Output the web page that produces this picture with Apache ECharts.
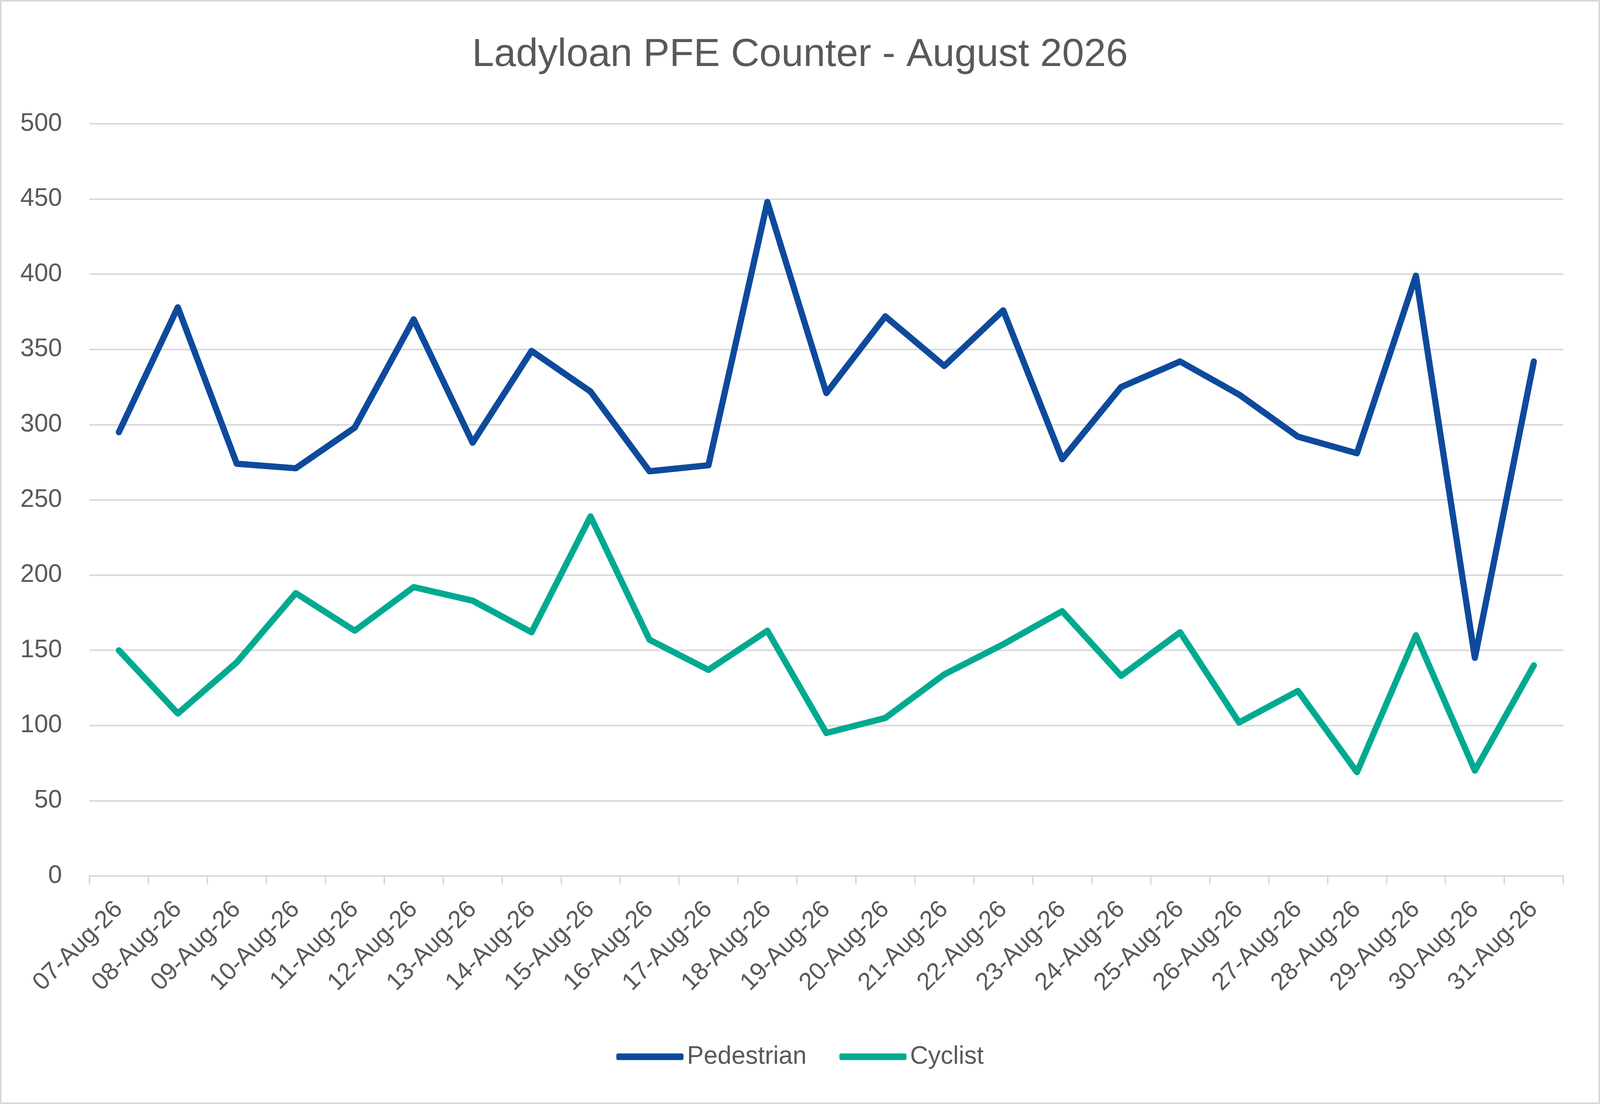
<!DOCTYPE html>
<html lang="en">
<head>
<meta charset="utf-8" />
<script src="https://cdn.jsdelivr.net/npm/echarts@6/dist/echarts.min.js"></script>
<style>
  html, body { margin: 0; padding: 0; background: #fff; overflow: hidden; }
  #chart { width: 100vw; height: 100vh; box-sizing: border-box; border: 4px solid #d9d9d9; }
</style>
</head>
<body>
<div id="chart"></div>
<script>
  var days = ["07-Aug-26", "08-Aug-26", "09-Aug-26", "10-Aug-26", "11-Aug-26", "12-Aug-26",
    "13-Aug-26", "14-Aug-26", "15-Aug-26", "16-Aug-26", "17-Aug-26", "18-Aug-26", "19-Aug-26",
    "20-Aug-26", "21-Aug-26", "22-Aug-26", "23-Aug-26", "24-Aug-26", "25-Aug-26", "26-Aug-26",
    "27-Aug-26", "28-Aug-26", "29-Aug-26", "30-Aug-26", "31-Aug-26"];

  var pedestrian = [295, 378, 274, 271, 298, 370, 288, 349, 322, 269, 273, 448, 321,
    372, 339, 376, 277, 325, 342, 320, 292, 281, 399, 145, 342];

  var cyclist = [150, 108, 142, 188, 163, 192, 183, 162, 239, 157, 137, 163, 95,
    105, 134, 154, 176, 133, 162, 102, 123, 69, 160, 70, 140];

  var font = "'Liberation Sans', Arial, sans-serif";
  var txt = "#595959";
  var grey = "#d9d9d9";

  function makeLine(name, values, color){
    return {
      name: name,
      type: "line",
      data: values,
      showSymbol: false,
      symbol: "none",
      lineStyle: { width: 16, color: color, join: "round", cap: "round" },
      itemStyle: { color: color }
    };
  }

  var chart = echarts.init(document.getElementById("chart"));
  chart.setOption({
    animation: false,
    backgroundColor: "#fff",
    title: {
      text: "Ladyloan PFE Counter - August 2026",
      left: "center",
      top: 82,
      textStyle: { fontFamily: font, fontSize: 101, fontWeight: "normal", color: txt }
    },
    legend: {
      bottom: 80,
      left: "center",
      icon: "roundRect",
      itemWidth: 172,
      itemHeight: 17,
      itemGap: 84,
      textStyle: { fontFamily: font, fontSize: 64, color: txt, padding: [0, 0, 0, 4] },
      data: ["Pedestrian", "Cyclist"]
    },
    grid: { left: "5.5%", right: "2.2%", top: 313, bottom: 580, containLabel: false },
    xAxis: {
      type: "category",
      data: days,
      boundaryGap: true,
      axisLine: { lineStyle: { color: grey, width: 4 } },
      axisTick: { show: true, alignWithLabel: false, length: 22, lineStyle: { color: grey, width: 4 } },
      axisLabel: { rotate: 45, margin: 76, interval: 0, fontFamily: font, fontSize: 63, color: txt },
      splitLine: { show: false }
    },
    yAxis: {
      type: "value",
      min: 0,
      max: 500,
      interval: 50,
      axisLine: { show: false },
      axisTick: { show: false },
      axisLabel: { margin: 70, fontFamily: font, fontSize: 64, color: txt },
      splitLine: { lineStyle: { color: grey, width: 4 } }
    },
    series: [
      makeLine("Pedestrian", pedestrian, "#0e4a9c"),
      makeLine("Cyclist", cyclist, "#00aa90")
    ]
  });
</script>
</body>
</html>
